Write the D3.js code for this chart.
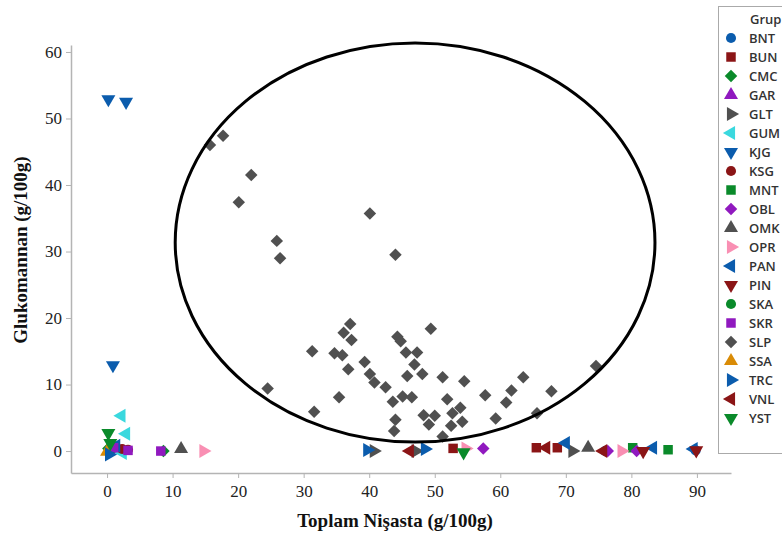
<!DOCTYPE html>
<html><head><meta charset="utf-8">
<script src="https://cdn.jsdelivr.net/npm/d3@7"></script>
<style>body{margin:0;background:#fff;}svg{display:block;}</style>
</head><body>
<svg id="chart" width="782" height="533"></svg>
<script>
const xTicks = [0,10,20,30,40,50,60,70,80,90];
const yTicks = [0,10,20,30,40,50,60];
const xTitle = "Toplam Nişasta (g/100g)";
const yTitle = "Glukomannan (g/100g)";
const legendTitle = "Grup";
const groups = ["BNT","BUN","CMC","GAR","GLT","GUM","KJG","KSG","MNT","OBL","OMK","OPR","PAN","PIN","SKA","SKR","SLP","SSA","TRC","VNL","YST"];

const BNT = [[76.0,0],[89.8,0.1]];
const BUN = [[52.8,0.4],[65.5,0.5],[68.7,0.5]];
const CMC = [[0.2,0.4],[8.6,0]];
const GAR = [[0.8,0.3]];
const GLT = [[40.7,0],[47.1,0],[71.0,0]];
const GUM = [[2.2,5.3],[2.9,2.6],[2.4,-0.3]];
const KJG = [[0.2,52.9],[2.9,52.5],[0.9,12.9]];
const KSG = [[2.3,0.3],[3.2,0.2]];
const MNT = [[80.2,0.5],[85.6,0.2]];
const OBL = [[57.4,0.4],[76.4,0],[80.8,0]];
const OMK = [[11.3,0.3],[73.4,0.5]];
const OPR = [[14.7,0],[54.7,0.4],[78.5,0]];
const PAN = [[1.4,0.8],[70.0,1.2],[83.3,0.5],[89.5,0.3]];
const PIN = [[81.8,0],[89.9,0.1]];
const SKA = [[0.5,0.2]];
const SKR = [[3.2,0.1],[8.2,0],[1.0,0.5]];
const SLP = [[15.7,46.0],[17.7,47.4],[22.0,41.5],[20.1,37.4],[25.9,31.6],[26.4,29.0],[40.1,35.7],[44.0,29.5],
  [37.1,19.1],[36.1,17.8],[37.3,16.7],[49.4,18.4],[44.3,17.2],[44.8,16.5],
  [31.3,15.0],[34.7,14.7],[35.9,14.4],[45.6,14.8],[47.3,14.8],
  [39.3,13.4],[46.9,13.0],[36.8,12.3],[40.1,11.6],[45.8,11.3],[48.1,11.6],[51.2,11.1],[54.5,10.5],
  [40.8,10.3],[42.5,9.6],[24.5,9.4],[63.5,11.1],[67.8,9.0],[61.7,9.1],[74.6,12.8],
  [35.4,8.1],[45.1,8.2],[46.5,8.1],[43.6,7.4],[51.9,7.8],[57.7,8.4],[60.9,7.3],
  [31.6,5.9],[53.9,6.5],[52.7,5.7],[65.6,5.7],[48.3,5.4],[50.0,5.3],[59.3,4.9],[44.0,4.7],[54.2,4.4],[49.1,4.0],[52.5,3.8],[43.8,3.0],[51.2,2.2]];
const SSA = [[0.0,-0.1]];
const TRC = [[39.7,0.15],[48.5,0.3],[0.3,-0.5]];
const VNL = [[46.2,0],[67.0,0.5],[75.7,0]];
const YST = [[0.2,2.7],[0.5,1.2],[54.4,-0.2]];

const ellipseCenter = [47.0, 31.35];
const ellipseRadii = [36.6, 30.0];

const seriesData = {BNT,BUN,CMC,GAR,GLT,GUM,KJG,KSG,MNT,OBL,OMK,OPR,PAN,PIN,SKA,SKR,SLP,SSA,TRC,VNL,YST};

// styles
const C = {blue:"#0b5cad", red:"#8b1516", green:"#0a8a2a", purple:"#9019bf", gray:"#505050", cyan:"#3ad8de", pink:"#f98fb3", orange:"#d98b06"};
const style = {
  BNT:{c:C.blue,s:"circle"}, BUN:{c:C.red,s:"square"}, CMC:{c:C.green,s:"diamond"}, GAR:{c:C.purple,s:"up"},
  GLT:{c:C.gray,s:"right"}, GUM:{c:C.cyan,s:"left"}, KJG:{c:C.blue,s:"down"}, KSG:{c:C.red,s:"circle"},
  MNT:{c:C.green,s:"square"}, OBL:{c:C.purple,s:"diamond"}, OMK:{c:C.gray,s:"up"}, OPR:{c:C.pink,s:"right"},
  PAN:{c:C.blue,s:"left"}, PIN:{c:C.red,s:"down"}, SKA:{c:C.green,s:"circle"}, SKR:{c:C.purple,s:"square"},
  SLP:{c:C.gray,s:"diamond"}, SSA:{c:C.orange,s:"up"}, TRC:{c:C.blue,s:"right"}, VNL:{c:C.red,s:"left"}, YST:{c:C.green,s:"down"}
};
function symPath(s){
  if(s==="circle") return {d:d3.symbol(d3.symbolCircle,80)(), r:0};
  if(s==="square") return {d:d3.symbol(d3.symbolSquare,90)(), r:0};
  if(s==="diamond") return {d:d3.symbol(d3.symbolSquare,78)(), r:45};
  const d = d3.symbol(d3.symbolTriangle,85)();
  return {d, r:{up:0,right:90,down:180,left:270}[s]};
}

const svg = d3.select("#chart");
const x = d3.scaleLinear().domain([-5.5, 95.2]).range([71, 731]);
const y = d3.scaleLinear().domain([-3.3, 61.05]).range([473, 45]);

const axisColor = "#b4b4b4";
// y axis
const gy = svg.append("g").attr("transform","translate(71,0)")
  .call(d3.axisLeft(y).tickValues(yTicks).tickSize(5).tickPadding(4).tickSizeOuter(0));
gy.select(".domain").attr("stroke",axisColor).attr("stroke-width",1.5);
gy.selectAll(".tick line").attr("stroke",axisColor);
gy.selectAll(".tick text").attr("font-family","'Liberation Serif', serif").attr("font-size",17).attr("fill","#222");
// x axis
const gx = svg.append("g").attr("transform","translate(0,473)")
  .call(d3.axisBottom(x).tickValues(xTicks).tickSize(5).tickPadding(7).tickSizeOuter(0));
gx.select(".domain").attr("stroke",axisColor).attr("stroke-width",1.5);
gx.selectAll(".tick line").attr("stroke",axisColor);
gx.selectAll(".tick text").attr("font-family","'Liberation Serif', serif").attr("font-size",17).attr("fill","#222");

svg.append("text").attr("x",395).attr("y",527).attr("text-anchor","middle")
  .attr("font-family","'Liberation Serif', serif").attr("font-weight","bold").attr("font-size",19).attr("fill","#111")
  .text(xTitle);
svg.append("text").attr("transform","translate(27,250) rotate(-90)").attr("text-anchor","middle")
  .attr("font-family","'Liberation Serif', serif").attr("font-weight","bold").attr("font-size",19).attr("fill","#111")
  .text(yTitle);

// points
const gp = svg.append("g");
groups.forEach(g=>{
  const st = style[g], sp = symPath(st.s);
  gp.selectAll(null).data(seriesData[g]).enter().append("path")
    .attr("d", sp.d)
    .attr("transform", d=>`translate(${x(d[0])},${y(d[1])}) rotate(${sp.r})`)
    .attr("fill", st.c);
});

// ellipse
svg.append("ellipse")
  .attr("cx", x(ellipseCenter[0])).attr("cy", y(ellipseCenter[1]))
  .attr("rx", x(ellipseCenter[0]+ellipseRadii[0]) - x(ellipseCenter[0]))
  .attr("ry", y(ellipseCenter[1]) - y(ellipseCenter[1]+ellipseRadii[1]))
  .attr("fill","none").attr("stroke","#000").attr("stroke-width",3);

// legend
const lg = svg.append("g");
lg.append("rect").attr("x",718.5).attr("y",6.5).attr("width",80).attr("height",447)
  .attr("fill","#fff").attr("stroke","#aaa").attr("stroke-width",1);
lg.append("text").attr("x",750).attr("y",24).attr("font-family","'Open Sans', sans-serif")
  .attr("font-weight",600).attr("font-size",13).attr("fill","#333").text(legendTitle);
groups.forEach((g,i)=>{
  const yy = 38 + i*19;
  const st = style[g], sp = symPath(st.s);
  lg.append("path").attr("d",sp.d).attr("transform",`translate(731,${yy}) rotate(${sp.r})`).attr("fill",st.c);
  lg.append("text").attr("x",749).attr("y",yy+5).attr("font-family","'Open Sans', sans-serif")
    .attr("font-weight",600).attr("font-size",13).attr("fill","#333").text(g);
});
</script>
</body></html>
